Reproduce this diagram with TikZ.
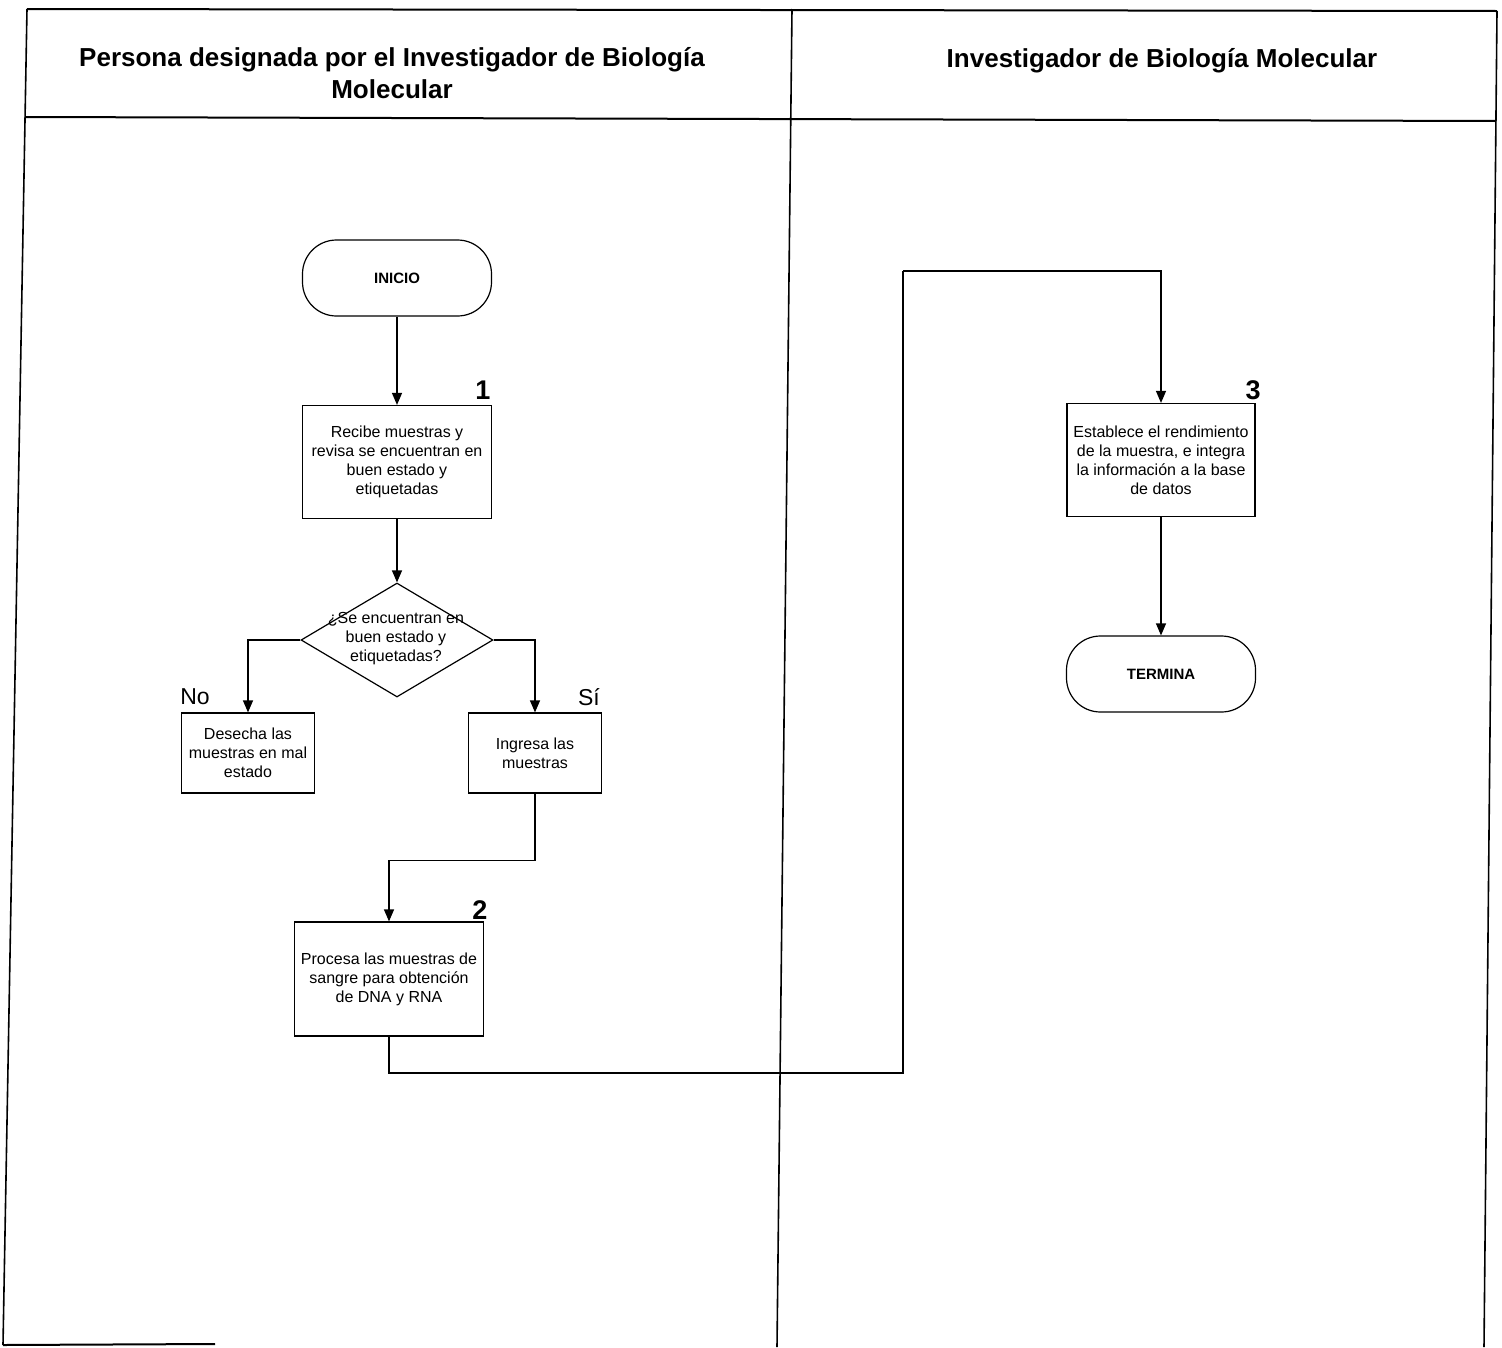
\documentclass[tikz,border=0pt]{standalone}
\usepackage{fontspec}
\setmainfont{Liberation Sans}
\usetikzlibrary{shapes.geometric, arrows.meta, positioning}
\tikzset{every picture/.append style={thick}}

\begin{document}
\begin{tikzpicture}[x=1pt, y=-1pt, line width=1.2pt,
    flecha/.style={-{Triangle[length=12pt, width=10pt]}},
    terminal/.style={draw, rectangle, rounded corners=34pt, minimum width=189pt, minimum height=76pt, font=\bfseries\fontsize{15}{18}\selectfont},
    proceso/.style={draw, rectangle, minimum width=189pt, minimum height=113pt, align=center, font=\fontsize{16}{19}\selectfont},
    chico/.style={draw, rectangle, minimum width=133pt, minimum height=80pt, align=center, font=\fontsize{16}{19}\selectfont},
    decision/.style={draw, diamond, minimum width=192pt, minimum height=114pt, inner sep=0pt},
    texto/.style={align=center, font=\fontsize{16}{19}\selectfont},
    numero/.style={font=\bfseries\fontsize{27}{30}\selectfont, inner sep=0pt},
    rama/.style={font=\fontsize{23}{26}\selectfont, inner sep=0pt},
    titulo/.style={align=center, font=\bfseries\fontsize{26}{32}\selectfont}]
    \useasboundingbox (0,0) rectangle (1502,1347);

    % Swimlane frame
    \draw[line width=2pt] (27,9) -- (1497,11);
    \draw[line width=2pt] (25,117) -- (1496,121);
    \draw[line width=1.6pt] (27,9) -- (3,1345);
    \draw[line width=1.6pt] (792,9) -- (777,1347);
    \draw[line width=1.6pt] (1497,11) -- (1484,1347);
    \draw[line width=2pt] (3,1345) -- (215,1344);

    % Lane titles
    \node[titulo] (carril1) at (392,73) {Persona designada por el Investigador de Biología\\Molecular};
    \node[titulo] (carril2) at (1162,61) {Investigador de Biología Molecular};

    % Left lane
    \node[terminal] (inicio) at (397,278) {INICIO};
    \node[proceso] (recibe) at (397,462) {Recibe muestras y\\revisa se encuentran en\\buen estado y\\etiquetadas};
    \node[decision] (revisa) at (397,640) {};
    \node[texto] (pregunta) at (396,639) {¿Se encuentran en\\buen estado y\\etiquetadas?};
    \node[chico] (desecha) at (248,753) {Desecha las\\muestras en mal\\estado};
    \node[chico] (ingresa) at (535,753) {Ingresa las\\muestras};
    \node[proceso, minimum height=114pt] (procesa) at (389,979) {Procesa las muestras de\\sangre para obtención\\de DNA y RNA};

    % Right lane
    \node[proceso, minimum width=188pt] (establece) at (1161,460) {Establece el rendimiento\\de la muestra, e integra\\la información a la base\\de datos};
    \node[terminal] (termina) at (1161,674) {TERMINA};

    % Step numbers and branch labels
    \node[numero] (num1) at (483,390) {1};
    \node[numero] (num2) at (480,910) {2};
    \node[numero] (num3) at (1253,390) {3};
    \node[rama] (no) at (195,697) {No};
    \node[rama] (si) at (589,697) {Sí};

    % Connectors
    \coordinate (giro1) at (903,1073);
    \coordinate (giro2) at (903,271);
    \draw[flecha] (inicio) -- (recibe);
    \draw[flecha] (recibe) -- (revisa.north);
    \draw[flecha] (revisa.west) -| (desecha.north);
    \draw[flecha] (revisa.east) -| (ingresa.north);
    \draw[flecha] (ingresa.south) -- ++(0,67) -| (procesa.north);
    \draw (procesa.south) |- (giro1) -- (giro2);
    \draw[flecha] (giro2) -| (establece.north);
    \draw[flecha] (establece) -- (termina);
\end{tikzpicture}
\end{document}
